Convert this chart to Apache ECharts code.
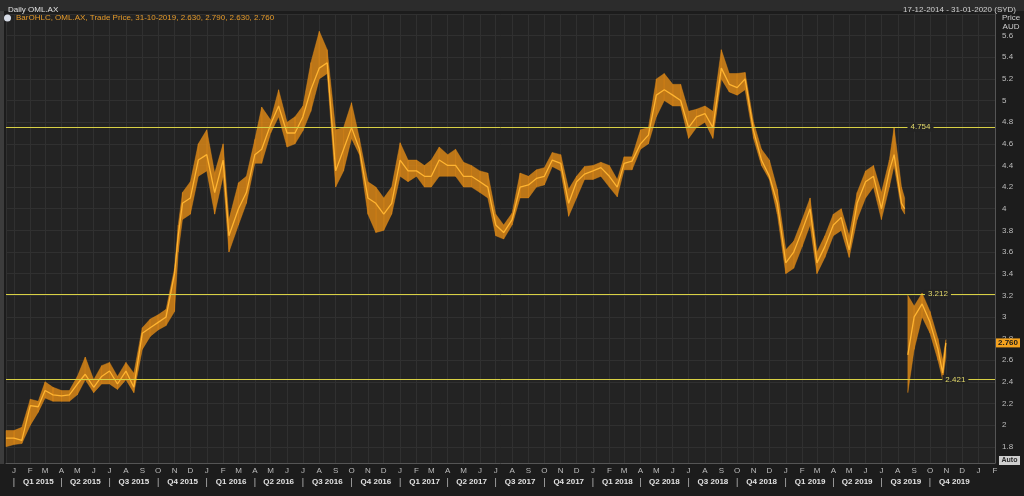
<!DOCTYPE html>
<html><head><meta charset="utf-8">
<script src="https://cdn.jsdelivr.net/npm/echarts@6/dist/echarts.min.js"></script>
<style>html,body{margin:0;padding:0;background:#1c1c1c;}#c{width:1024px;height:496px;}</style>
</head><body><div id="c"></div>
<script>
// Half-monthly price ranges (AUD)
const dates = ['2014-12-17','2015-01-01','2015-01-16','2015-02-01','2015-02-16','2015-03-01','2015-03-16','2015-04-01','2015-04-16','2015-05-01','2015-05-16','2015-06-01','2015-06-16','2015-07-01','2015-07-16','2015-08-01','2015-08-16','2015-09-01','2015-09-16','2015-10-01','2015-10-16','2015-11-01','2015-11-08','2015-11-16','2015-12-01','2015-12-16','2016-01-01','2016-01-16','2016-02-01','2016-02-12','2016-03-01','2016-03-16','2016-04-01','2016-04-14','2016-05-01','2016-05-16','2016-06-01','2016-06-16','2016-07-01','2016-07-16','2016-08-01','2016-08-16','2016-09-01','2016-09-16','2016-10-01','2016-10-16','2016-11-01','2016-11-16','2016-12-01','2016-12-16','2017-01-01','2017-01-16','2017-02-01','2017-02-16','2017-03-01','2017-03-16','2017-04-01','2017-04-16','2017-05-01','2017-05-16','2017-06-01','2017-06-16','2017-07-01','2017-07-16','2017-08-01','2017-08-16','2017-09-01','2017-09-16','2017-10-01','2017-10-16','2017-11-01','2017-11-16','2017-12-01','2017-12-16','2018-01-01','2018-01-16','2018-02-01','2018-02-16','2018-03-01','2018-03-16','2018-04-01','2018-04-16','2018-05-01','2018-05-16','2018-06-01','2018-06-16','2018-07-01','2018-07-16','2018-08-01','2018-08-16','2018-09-01','2018-09-16','2018-10-01','2018-10-16','2018-11-01','2018-11-16','2018-12-01','2018-12-16','2019-01-01','2019-01-16','2019-02-01','2019-02-16','2019-03-01','2019-03-16','2019-04-01','2019-04-16','2019-05-01','2019-05-16','2019-06-01','2019-06-16','2019-07-01','2019-07-16','2019-07-25','2019-08-08','2019-08-14','2019-08-17','2019-08-20','2019-09-01','2019-09-16','2019-10-01','2019-10-16','2019-10-25','2019-10-31'];
const lows   = [1.80,1.82,1.83,2.00,2.12,2.25,2.22,2.22,2.22,2.28,2.42,2.30,2.38,2.38,2.33,2.42,2.30,2.70,2.82,2.88,2.92,3.05,3.60,3.90,3.95,4.30,4.35,3.95,4.30,3.60,3.85,4.05,4.42,4.42,4.70,4.85,4.57,4.60,4.72,4.90,5.20,5.25,4.20,4.35,4.65,4.50,3.95,3.78,3.80,3.95,4.30,4.25,4.30,4.20,4.20,4.30,4.30,4.30,4.20,4.20,4.15,4.10,3.75,3.72,3.85,4.10,4.10,4.20,4.22,4.39,4.35,3.93,4.10,4.27,4.27,4.30,4.20,4.11,4.36,4.36,4.55,4.60,4.85,5.00,4.95,4.95,4.65,4.75,4.80,4.65,5.20,5.08,5.05,5.10,4.65,4.40,4.27,3.95,3.40,3.45,3.65,3.85,3.40,3.55,3.75,3.80,3.55,3.90,4.10,4.20,3.90,4.20,4.40,4.00,3.95,null,2.30,2.70,3.00,2.85,2.60,2.42,2.63];
const highs  = [1.95,1.95,1.98,2.24,2.22,2.40,2.35,2.32,2.32,2.45,2.63,2.42,2.55,2.58,2.45,2.58,2.48,2.90,2.98,3.02,3.07,3.45,3.85,4.15,4.25,4.60,4.73,4.33,4.60,3.90,4.24,4.30,4.64,4.94,4.82,5.10,4.80,4.85,4.95,5.35,5.64,5.47,4.73,4.75,4.98,4.65,4.25,4.20,4.10,4.20,4.61,4.45,4.45,4.40,4.45,4.57,4.50,4.55,4.43,4.40,4.35,4.33,3.95,3.85,3.96,4.33,4.30,4.36,4.38,4.52,4.50,4.18,4.30,4.39,4.40,4.43,4.40,4.27,4.48,4.48,4.73,4.75,5.20,5.25,5.15,5.15,4.90,4.92,4.95,4.90,5.47,5.25,5.25,5.26,4.80,4.55,4.45,4.18,3.62,3.70,3.90,4.10,3.60,3.75,3.95,4.00,3.75,4.15,4.35,4.40,4.15,4.45,4.75,4.20,4.10,null,3.20,3.10,3.22,3.05,2.80,2.60,2.79];
const closes = [1.88,1.88,1.86,2.18,2.17,2.32,2.28,2.27,2.28,2.38,2.47,2.35,2.45,2.50,2.38,2.50,2.35,2.85,2.90,2.95,3.00,3.40,3.75,4.05,4.10,4.45,4.50,4.15,4.45,3.75,4.00,4.15,4.50,4.55,4.78,4.95,4.70,4.70,4.85,5.10,5.30,5.35,4.35,4.55,4.75,4.55,4.10,4.05,3.95,4.05,4.45,4.35,4.35,4.30,4.30,4.45,4.40,4.40,4.30,4.30,4.25,4.20,3.85,3.78,3.90,4.20,4.22,4.28,4.30,4.45,4.42,4.05,4.25,4.32,4.35,4.38,4.30,4.20,4.42,4.44,4.60,4.68,5.05,5.10,5.05,5.00,4.75,4.85,4.88,4.75,5.30,5.15,5.12,5.20,4.72,4.45,4.30,4.05,3.50,3.60,3.80,4.00,3.50,3.65,3.85,3.92,3.62,4.05,4.25,4.30,4.00,4.35,4.50,4.05,4.00,null,2.65,3.00,3.12,2.95,2.70,2.48,2.76];
const levels = [4.754, 3.212, 2.421];
const lastBar = ['31-10-2019', 2.630, 2.790, 2.630, 2.760];
const monthLetters = ['J','F','M','A','M','J','J','A','S','O','N','D'];

function ts(s){ const p = s.split('-').map(Number); return new Date(p[0], p[1]-1, p[2]).getTime(); }
const T = dates.map(ts);
const xMin = ts('2014-12-17'), xMax = ts('2020-02-01');
const DAY = 864e5;

const chart = echarts.init(document.getElementById('c'));
const font = 'Liberation Sans, Arial, sans-serif';

function levelLabelSeg(v, d1, d2){
  return [{coord:[ts(d1), v], label:{show:true, position:'insideMiddle', distance:0, formatter: v.toFixed(3), color:'#e2d86a', fontSize:8, fontFamily:font, backgroundColor:'#232323', padding:[1,3,0,3]}},
          {coord:[ts(d2), v]}];
}

chart.setOption({
  backgroundColor:'#1c1c1c',
  animation:false,
  title:[
    {text:'Daily OML.AX', left:3, top:1, textStyle:{color:'#e0e0e0', fontSize:8, fontWeight:'normal', fontFamily:font}},
    {text:'17-12-2014 - 31-01-2020 (SYD)', right:3, top:1, textStyle:{color:'#cfcfcf', fontSize:8, fontWeight:'normal', fontFamily:font}}
  ],
  legend:{
    left:4, top:14, itemWidth:7, itemHeight:7, itemGap:2, padding:0,
    data:[{name:'OML.AX', icon:'circle', itemStyle:{color:'#d8dde8'}}],
    formatter: () => 'BarOHLC, OML.AX, Trade Price, ' + lastBar[0] + ', ' + lastBar.slice(1).map(v=>v.toFixed(3)).join(', '),
    textStyle:{color:'#e59a2a', fontSize:8, fontFamily:font, padding:[0,0,0,0]}
  },
  graphic:[
    {type:'rect', left:0, top:0, shape:{width:1024, height:11}, style:{fill:'#2c2c2c'}, z:-10},
    {type:'rect', left:0, top:11, shape:{width:4, height:453}, style:{fill:'#3c3c3c'}, z:-10},
    {type:'group', left:999, top:456, children:[
      {type:'rect', shape:{x:0,y:0,width:21,height:9}, style:{fill:'#cfcfcf'}},
      {type:'text', x:10.5, y:4.5, style:{text:'Auto', fill:'#2a2a2a', fontSize:7, fontWeight:'bold', fontFamily:font, align:'center', verticalAlign:'middle'}}
    ]}
  ],
  grid:{left:6, right:29, top:14, bottom:33, show:true, backgroundColor:'#232323', borderWidth:0},
  xAxis:[
    {type:'time', min:xMin, max:xMax, minInterval:28*DAY, maxInterval:31*DAY,
     axisLine:{show:true, lineStyle:{color:'#555'}}, axisTick:{show:false},
     splitLine:{show:true, lineStyle:{color:'#303030', width:1}},
     axisLabel:{color:'#bdbdbd', fontSize:8, fontFamily:font, margin:4, hideOverlap:false,
       formatter:(v)=>{ const d=new Date(v); if(d.getDate()!==1) return ''; return monthLetters[d.getMonth()]; }}},
    {type:'time', min:xMin, max:xMax, minInterval:28*DAY, maxInterval:31*DAY, position:'bottom',
     axisLine:{show:false}, axisTick:{show:false}, splitLine:{show:false},
     axisLabel:{color:'#d8d8d8', fontSize:8, fontFamily:font, margin:15, hideOverlap:false,
       rich:{q:{fontSize:8, fontWeight:'bold', color:'#e2e2e2', fontFamily:font, padding:[0,0,0,16]}, s:{fontSize:9, color:'#bdbdbd'}},
       formatter:(v)=>{ const d=new Date(v); if(d.getDate()!==1 || d.getFullYear()>2019) return ''; const m=d.getMonth();
         if(m%3===0) return '{s||}'; if(m%3===1) return '{q|Q'+((m-1)/3+1)+' '+d.getFullYear()+'}'; return ''; }}}
  ],
  yAxis:{type:'value', position:'right', min:1.65, max:5.8, interval:0.05, scale:true,
    name:'Price\nAUD', nameLocation:'end', nameGap:-20,
    nameTextStyle:{color:'#d0d0d0', fontSize:8, fontFamily:font, align:'center', padding:[0,0,0,32], lineHeight:9},
    axisLine:{show:true, lineStyle:{color:'#555'}}, axisTick:{show:false},
    splitLine:{show:true, lineStyle:{color:['rgba(0,0,0,0)','rgba(0,0,0,0)','rgba(0,0,0,0)','#303030']}},
    axisLabel:{color:'#bdbdbd', fontSize:8, fontFamily:font, margin:7,
      formatter:(v)=>{ const k=Math.round(v*100); if(k%20!==0 || v>5.7) return ''; return String(k/100); }}
  },
  series:[
    {type:'custom', name:'range', xAxisIndex:0, silent:true, z:2,
     data: T.map((t,i)=>[t, lows[i], highs[i]]),
     encode:{x:0, y:[1,2]},
     renderItem:(params, api)=>{
       const i=params.dataIndex;
       if(i>=T.length-1 || lows[i]==null || lows[i+1]==null) return null;
       const a=api.coord([T[i], lows[i]]), b=api.coord([T[i], highs[i]]);
       const c=api.coord([T[i+1], highs[i+1]]), d=api.coord([T[i+1], lows[i+1]]);
       return {type:'polygon', shape:{points:[a,b,c,d]}, style:{fill:'rgba(232,142,22,0.78)', stroke:'rgba(232,142,22,0.78)', lineWidth:0.5}};
     }},
    {type:'line', name:'OML.AX', xAxisIndex:0, z:3,
     data: T.map((t,i)=>[t, closes[i]]),
     showSymbol:false, connectNulls:false,
     lineStyle:{color:'#ffb430', width:1.3}, itemStyle:{color:'#ffb430'},
     markLine:{silent:true, symbol:'none', animation:false,
       lineStyle:{color:'#d8d044', width:1, type:'solid'},
       label:{show:false},
       data:[
         {yAxis:levels[0]}, {yAxis:levels[1]}, {yAxis:levels[2]},
         levelLabelSeg(levels[0], '2019-09-05', '2019-09-21'),
         levelLabelSeg(levels[1], '2019-10-08', '2019-10-24'),
         levelLabelSeg(levels[2], '2019-11-10', '2019-11-26'),
         {yAxis:closes[closes.length-1], lineStyle:{color:'rgba(0,0,0,0)', width:0},
          label:{show:true, position:'end', distance:1, formatter: lastBar[4].toFixed(3), color:'#1a1a1a', fontSize:8, fontWeight:'bold', fontFamily:font, backgroundColor:'#f4a21e', padding:[1,2,0,2]}}
       ]}}
  ]
});
</script></body></html>
